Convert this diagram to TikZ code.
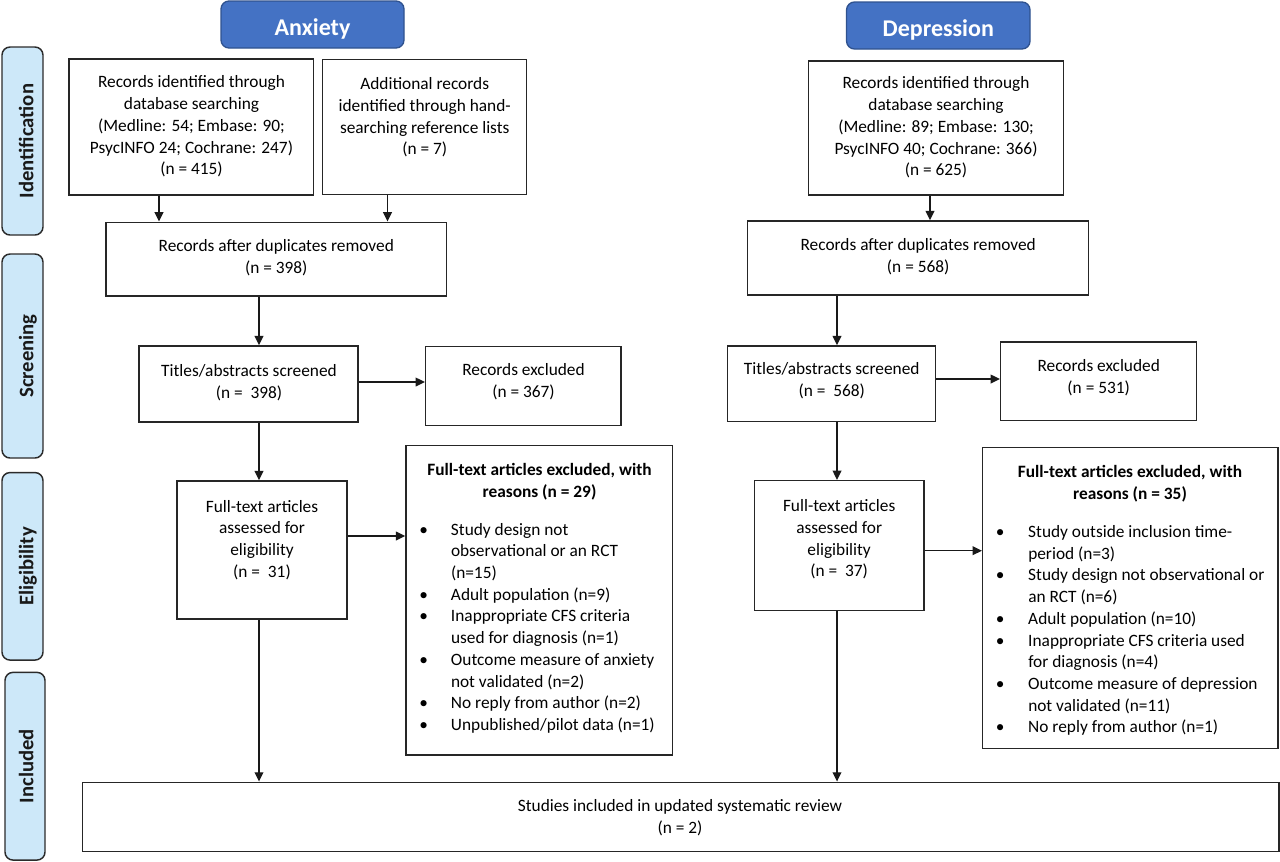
\documentclass[tikz,border=0pt]{standalone}
\usepackage{fontspec}
\setmainfont{Carlito}
\usetikzlibrary{arrows.meta}
\definecolor{hdrfill}{HTML}{4472C4}
\definecolor{hdrdraw}{HTML}{2F528F}
\definecolor{stgfill}{HTML}{CDE8F9}
\definecolor{stgdraw}{HTML}{2B2B2B}
\newcommand\mytab[1]{\begin{tabular}{@{}c@{}}#1\end{tabular}}
\begin{document}
\begin{tikzpicture}[x=0.75pt,y=-0.75pt,
  box/.style={draw=black!85, line width=1.1pt, inner sep=0pt, fill=white},
  sz/.style 2 args={minimum width={#1*0.75pt}, minimum height={#2*0.75pt}},
  txt/.style={inner sep=0pt, font=\fontsize{13}{16.3}\selectfont},
  btxt/.style={inner sep=0pt, font=\fontsize{13}{16.3}\selectfont\bfseries},
  hdr/.style={draw=hdrdraw, fill=hdrfill, line width=1pt, rounded corners=6pt, inner sep=0pt},
  hdrtxt/.style={text=white, font=\fontsize{18}{21}\selectfont\bfseries, inner sep=0pt},
  stg/.style={draw=stgdraw, fill=stgfill, line width=1.1pt, rounded corners=6pt, inner sep=0pt},
  stgtxt/.style={font=\fontsize{15.5}{18}\selectfont\bfseries, rotate=90, inner sep=0pt, text=black!90},
  arr/.style={line width=1.1pt, draw=black!90, -{Triangle[length=7pt,width=6.5pt]}}
]
\useasboundingbox (0,0) rectangle (1280,861);

% headers
\node[hdr, sz={183}{47}] (hA) at (312.5,24.5) {};
\node[hdrtxt, anchor=base] (hAt) at (312.5,35.3) {Anxiety};
\node[hdr, sz={183.5}{47}] (hD) at (938.3,25.5) {};
\node[hdrtxt, anchor=base] (hDt) at (938.3,36) {Depression};

% stage labels
\node[stg, sz={41}{188}] (sI) at (22.5,141) {};
\node[stgtxt, anchor=base] (sIt) at (33.5,141) {Identification};
\node[stg, sz={41}{204}] (sS) at (22.5,356) {};
\node[stgtxt, anchor=base] (sSt) at (33.5,356) {Screening};
\node[stg, sz={41}{187.5}] (sE) at (22.5,566.3) {};
\node[stgtxt, anchor=base] (sEt) at (33.5,566.3) {Eligibility};
\node[stg, sz={40}{187.7}] (sN) at (25,766.2) {};
\node[stgtxt, anchor=base] (sNt) at (33.5,766.2) {Included};

% left column boxes
\node[box, sz={244.5}{136}] (L1) at (191.25,127) {};
\node[txt] (L1t) at (191.5,127) {\mytab{Records identified through\\database searching\\(Medline: 54; Embase: 90;\\PsycINFO 24; Cochrane: 247)\\(n = 415)}};
\node[box, sz={204}{135}] (L2) at (424.7,126.8) {};
\node[txt] (L2t) at (424.7,118) {\mytab{Additional records\\identified through hand-\\searching reference lists\\(n = 7)}};
\node[box, sz={340.5}{73.7}] (LD) at (276.25,259.15) {};
\node[txt] (LDt) at (276.25,258) {\mytab{Records after duplicates removed\\(n = 398)}};
\node[box, sz={219}{76}] (LT) at (248.5,384) {};
\node[txt] (LTt) at (249,383) {\mytab{Titles/abstracts screened\\(n =\ \ 398)}};
\node[box, sz={195.3}{79}] (LX) at (523.35,386.2) {};
\node[txt] (LXt) at (523.5,382.5) {\mytab{Records excluded\\(n = 367)}};
\node[box, sz={170}{138}] (LF) at (262,550) {};
\node[txt] (LFt) at (262,540.5) {\mytab{Full-text articles\\assessed for\\eligibility\\(n =\ \ 31)}};
\node[box, sz={266.7}{309.3}] (LR) at (539.35,600.35) {};
\node[btxt] (LRh) at (539.5,482.5) {\mytab{Full-text articles excluded, with\\reasons (n = 29)}};
\node[txt, anchor=west] (LRl) at (419,628.5) {\begin{tabular}{@{}p{23.8pt}@{}l@{}}
\textbullet & Study design not\\
 & observational or an RCT\\
 & (n=15)\\
\textbullet & Adult population (n=9)\\
\textbullet & Inappropriate CFS criteria\\
 & used for diagnosis (n=1)\\
\textbullet & Outcome measure of anxiety\\
 & not validated (n=2)\\
\textbullet & No reply from author (n=2)\\
\textbullet & Unpublished/pilot data (n=1)
\end{tabular}};

% right column boxes
\node[box, sz={255}{134}] (R1) at (936,128) {};
\node[txt] (R1t) at (936,128) {\mytab{Records identified through\\database searching\\(Medline: 89; Embase: 130;\\PsycINFO 40; Cochrane: 366)\\(n = 625)}};
\node[box, sz={341}{74}] (RD) at (918.2,258) {};
\node[txt] (RDt) at (918.2,257) {\mytab{Records after duplicates removed\\(n = 568)}};
\node[box, sz={208}{75.7}] (RT) at (831.7,383.85) {};
\node[txt] (RTt) at (831.7,381.5) {\mytab{Titles/abstracts screened\\(n =\ \ 568)}};
\node[box, sz={196}{78.7}] (RX) at (1098.7,381.35) {};
\node[txt] (RXt) at (1098.7,378) {\mytab{Records excluded\\(n = 531)}};
\node[box, sz={169.7}{130}] (RF) at (839.15,545.7) {};
\node[txt] (RFt) at (839.15,540) {\mytab{Full-text articles\\assessed for\\eligibility\\(n =\ \ 37)}};
\node[box, sz={295.3}{301}] (RR) at (1130.35,598.2) {};
\node[btxt] (RRh) at (1130,484) {\mytab{Full-text articles excluded, with\\reasons (n = 35)}};
\node[txt, anchor=west] (RRl) at (995.7,630.8) {\begin{tabular}{@{}p{24.2pt}@{}l@{}}
\textbullet & Study outside inclusion time-\\
 & period (n=3)\\
\textbullet & Study design not observational or\\
 & an RCT (n=6)\\
\textbullet & Adult population (n=10)\\
\textbullet & Inappropriate CFS criteria used\\
 & for diagnosis (n=4)\\
\textbullet & Outcome measure of depression\\
 & not validated (n=11)\\
\textbullet & No reply from author (n=1)
\end{tabular}};

% final box
\node[box, sz={1196.3}{69.2}] (Fin) at (680.85,816.9) {};
\node[txt] (Fint) at (680,818) {\mytab{Studies included in updated systematic review\\(n = 2)}};

% column coordinates
\coordinate (cA) at (159,0);
\coordinate (cB) at (387.5,0);
\coordinate (cL) at (259,0);
\coordinate (cR1) at (930,0);
\coordinate (cR) at (837,0);
\coordinate (yLX) at (0,382);
\coordinate (yLR) at (0,536);
\coordinate (yRX) at (0,379);
\coordinate (yRR) at (0,550.7);

% arrows left
\draw[arr] (L1.south -| cA) -- (LD.north -| cA);
\draw[arr] (L2.south -| cB) -- (LD.north -| cB);
\draw[arr] (LD.south -| cL) -- (LT.north -| cL);
\draw[arr] (LT.south -| cL) -- (LF.north -| cL);
\draw[arr] (LF.south -| cL) -- (Fin.north -| cL);
\draw[arr] (LT.east |- yLX) -- (LX.west |- yLX);
\draw[arr] (LF.east |- yLR) -- (LR.west |- yLR);
% arrows right
\draw[arr] (R1.south -| cR1) -- (RD.north -| cR1);
\draw[arr] (RD.south -| cR) -- (RT.north -| cR);
\draw[arr] (RT.south -| cR) -- (RF.north -| cR);
\draw[arr] (RF.south -| cR) -- (Fin.north -| cR);
\draw[arr] (RT.east |- yRX) -- (RX.west |- yRX);
\draw[arr] (RF.east |- yRR) -- (RR.west |- yRR);
\end{tikzpicture}
\end{document}
